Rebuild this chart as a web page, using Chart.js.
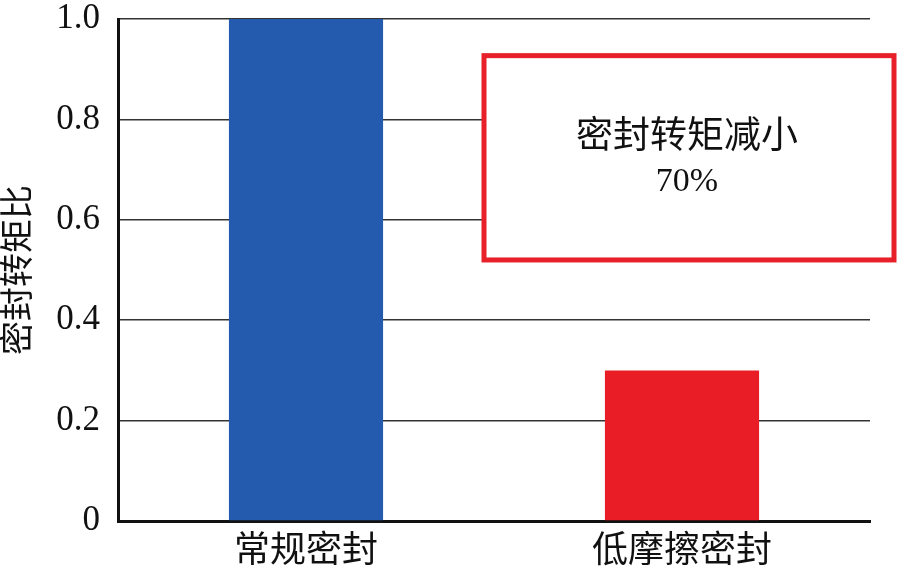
<!DOCTYPE html>
<html>
<head>
<meta charset="utf-8">
<script src="https://cdn.jsdelivr.net/npm/chart.js@4"></script>
<style>
  html, body { margin: 0; padding: 0; background: #fff; }
  #wrap { width: 902px; height: 571px; }
</style>
</head>
<body>
<div id="wrap"><canvas id="torqueChart"></canvas></div>
<script>
const categories = ['常规密封', '低摩擦密封'];
const torqueRatio = [1.0, 0.3];
const barColors = ['#255BAE', '#E81D25'];
const yTicks = [0, 0.2, 0.4, 0.6, 0.8, 1.0];
const noteLines = ['密封转矩减小', '70%'];

const serif = '"Liberation Serif", "Noto Sans CJK SC", serif';

// red note box drawn over the plot
const noteBox = {
    id: 'noteBox',
    afterDatasetsDraw(chart) {
        const c = chart.ctx;
        const y = chart.scales.y;
        const top = y.getPixelForValue(0.927);
        const bottom = y.getPixelForValue(0.52);
        const left = 484, right = 894;
        c.save();
        c.fillStyle = '#fff';
        c.fillRect(left, top, right - left, bottom - top);
        c.strokeStyle = '#E8202A';
        c.lineWidth = 5;
        c.strokeRect(left, top, right - left, bottom - top);
        c.fillStyle = '#111';
        c.textAlign = 'center';
        c.textBaseline = 'middle';
        const cx = (left + right) / 2 - 2;
        c.font = '37px ' + serif;
        c.fillText(noteLines[0], cx, top + 83);
        c.font = '34px ' + serif;
        c.fillText(noteLines[1], cx, top + 126);
        c.restore();
    }
};

new Chart(document.getElementById('torqueChart'), {
    type: 'bar',
    data: {
        labels: categories,
        datasets: [{
            data: torqueRatio,
            backgroundColor: barColors,
            borderWidth: 0,
            categoryPercentage: 1,
            barPercentage: 0.41
        }]
    },
    options: {
        responsive: true,
        maintainAspectRatio: false,
        animation: false,
        layout: {
            padding: { top: 2, right: 32, left: 0, bottom: 0 }
        },
        scales: {
            x: {
                grid: { display: false },
                border: { display: true, color: '#111', width: 3 },
                ticks: {
                    color: '#111',
                    font: { family: serif, size: 36 },
                    padding: 2
                },
                afterFit(scale) { scale.height = 50; }
            },
            y: {
                min: 0,
                max: 1.0,
                afterBuildTicks(scale) {
                    scale.ticks = yTicks.map(v => ({ value: v }));
                },
                grid: {
                    color: '#333',
                    lineWidth: 1.5,
                    drawTicks: false
                },
                border: { display: true, color: '#111', width: 3 },
                ticks: {
                    color: '#111',
                    font: { family: serif, size: 35 },
                    padding: 18,
                    callback: v => v === 0 ? '0' : v.toFixed(1)
                },
                title: {
                    display: true,
                    text: '密封转矩比',
                    color: '#111',
                    font: { family: serif, size: 34 },
                    padding: { top: 0, bottom: 0 }
                },
                afterFit(scale) {
                    scale.width = 118;
                    scale.paddingTop = 19;
                }
            }
        },
        plugins: {
            legend: { display: false },
            tooltip: { enabled: false }
        }
    },
    plugins: [noteBox]
});
</script>
</body>
</html>
